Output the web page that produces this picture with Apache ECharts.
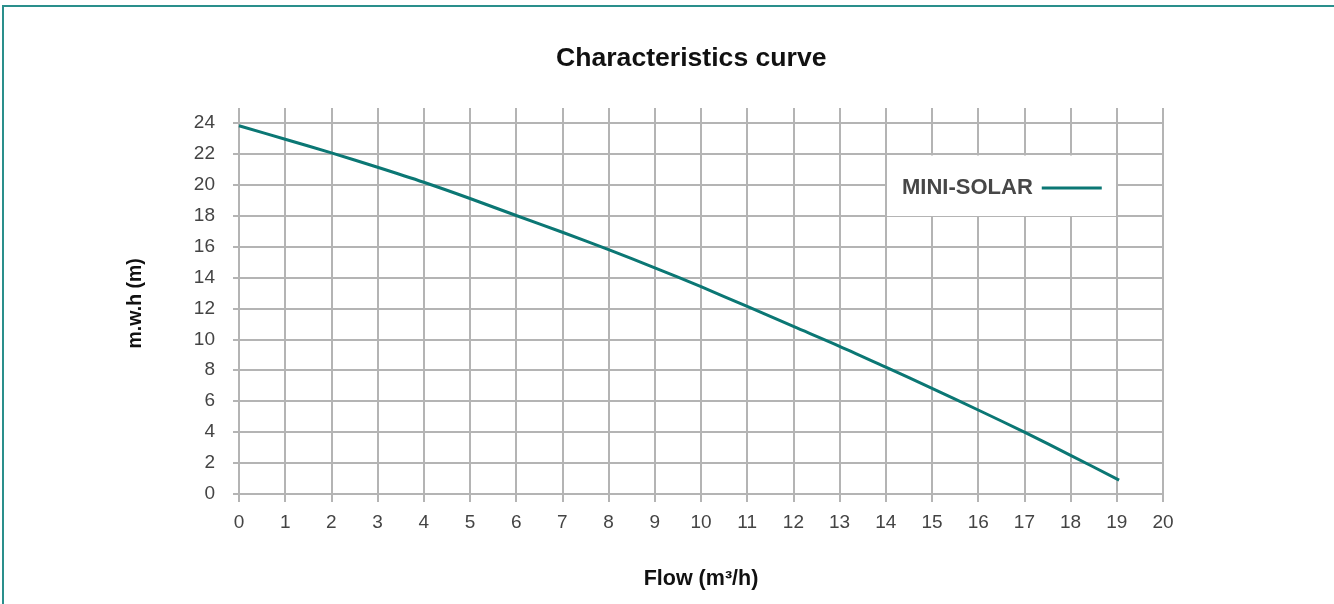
<!DOCTYPE html>
<html>
<head>
<meta charset="utf-8">
<script src="https://cdn.jsdelivr.net/npm/echarts@6/dist/echarts.min.js"></script>
<style>
  html, body { margin: 0; padding: 0; background: #fff; }
  #wrap { position: relative; width: 1334px; height: 604px; overflow: hidden; }
  #chart { position: absolute; left: 0; top: 0; width: 1334px; height: 604px; }
  #frame { position: absolute; left: 2px; top: 5px; width: 1340px; height: 610px;
           border-left: 2px solid #2a8f8c; border-top: 2px solid #2a8f8c; pointer-events: none; }
</style>
</head>
<body>
<div id="wrap">
  <div id="chart"></div>
  <div id="frame"></div>
</div>
<script>
// ---- data ----
const titleText = 'Characteristics curve';
const seriesName = 'MINI-SOLAR';
const xAxisTitle = 'Flow (m³/h)';
const yAxisTitle = 'm.w.h (m)';
const flow = [0, 1, 2, 3, 4, 5, 6, 7, 8, 9, 10, 11, 12, 13, 14, 15, 16, 17, 18, 19.05];
const head = [23.8, 22.93, 22.05, 21.12, 20.15, 19.1, 18.0, 16.92, 15.8, 14.62, 13.4, 12.12, 10.83, 9.55, 8.2, 6.83, 5.43, 4.0, 2.5, 0.9];
const xMin = 0, xMax = 20, xStep = 1;
const yMin = 0, yMax = 24, yStep = 2;

// ---- chart ----
const FONT = '"Liberation Sans", Arial, Helvetica, sans-serif';
const GRID = '#b4b4b4';
const TEAL = '#0b7774';

const chart = echarts.init(document.getElementById('chart'), null, { renderer: 'canvas' });
chart.setOption({
  backgroundColor: '#ffffff',
  animation: false,
  title: {
    text: titleText,
    left: 556,
    top: 45,
    padding: 0,
    textStyle: { fontFamily: FONT, fontSize: 26.6, fontWeight: 'bold', color: '#111' }
  },
  graphic: [
    { type: 'rect', z: 3, shape: { x: 887, y: 155.5, width: 229, height: 60.5 }, style: { fill: '#ffffff' } }
  ],
  legend: {
    data: [seriesName],
    left: 902,
    top: 177,
    align: 'right',
    padding: 0,
    itemWidth: 60,
    itemHeight: 3,
    icon: 'rect',
    z: 5,
    textStyle: { fontFamily: FONT, fontSize: 22, fontWeight: 'bold', color: '#474747', padding: [0, 4, 0, 0] }
  },
  grid: [
    { left: 239, right: 171, top: 122.7, bottom: 110, containLabel: false },
    { left: 239, right: 171, top: 108, bottom: 110, containLabel: false }
  ],
  xAxis: [
    {
      type: 'value', gridIndex: 0, min: xMin, max: xMax, interval: xStep,
      axisLine: { show: true, lineStyle: { color: GRID, width: 2 } },
      axisTick: { show: true, length: 8, lineStyle: { color: GRID, width: 2 } },
      splitLine: { show: true, lineStyle: { color: GRID, width: 2 } },
      axisLabel: { fontFamily: FONT, fontSize: 19, color: '#444', margin: 19 },
      name: xAxisTitle, nameLocation: 'middle', nameGap: 74,
      nameTextStyle: { fontFamily: FONT, fontSize: 21.5, fontWeight: 'bold', color: '#111' }
    },
    {
      type: 'value', gridIndex: 1, min: xMin, max: xMax, interval: xStep,
      axisLine: { show: false }, axisTick: { show: false }, axisLabel: { show: false },
      splitLine: { show: true, lineStyle: { color: GRID, width: 2 } }
    }
  ],
  yAxis: [
    {
      type: 'value', gridIndex: 0, min: yMin, max: yMax, interval: yStep,
      axisLine: { show: true, lineStyle: { color: GRID, width: 2 } },
      axisTick: { show: true, length: 6, lineStyle: { color: GRID, width: 2 } },
      splitLine: { show: true, lineStyle: { color: GRID, width: 2 } },
      axisLabel: { fontFamily: FONT, fontSize: 19, color: '#444', margin: 24 },
      name: yAxisTitle, nameLocation: 'middle', nameGap: 93, nameRotate: 90,
      nameTextStyle: { fontFamily: FONT, fontSize: 19.5, fontWeight: 'bold', color: '#111', padding: [0, 0, 0, 10] }
    },
    {
      type: 'value', gridIndex: 1, min: 0, max: 1, show: false,
      splitLine: { show: false }
    }
  ],
  series: [
    {
      name: seriesName,
      type: 'line',
      xAxisIndex: 0, yAxisIndex: 0,
      data: flow.map((x, i) => [x, head[i]]),
      smooth: 0.3,
      showSymbol: false,
      symbol: 'none',
      lineStyle: { color: TEAL, width: 3 },
      itemStyle: { color: TEAL },
      z: 3
    }
  ]
});
</script>
</body>
</html>
